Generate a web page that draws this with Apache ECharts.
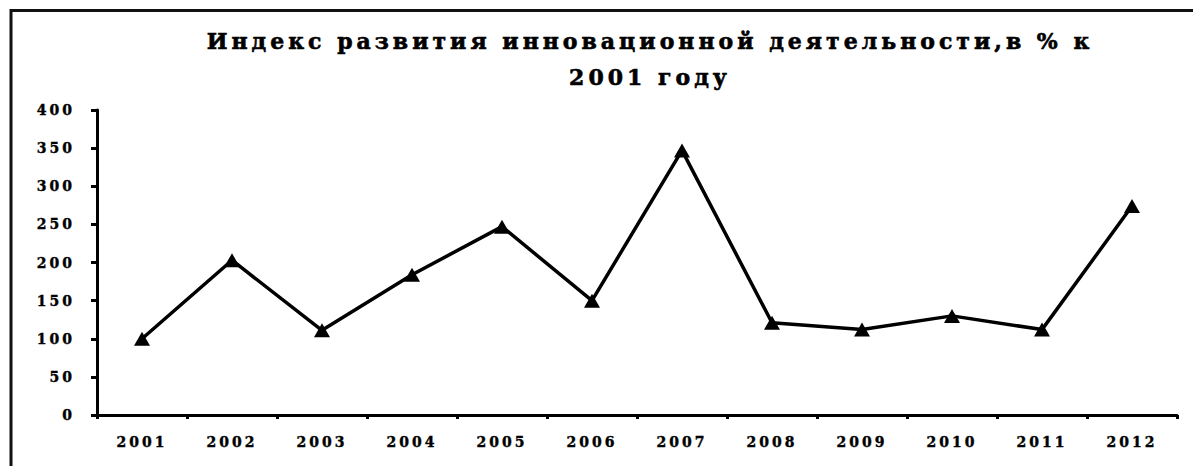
<!DOCTYPE html>
<html>
<head>
<meta charset="utf-8">
<script src="https://cdn.jsdelivr.net/npm/echarts@6/dist/echarts.min.js"></script>
<style>
  html, body { margin: 0; padding: 0; background: #fff; }
  #main { width: 1193px; height: 466px; }
  #main text { letter-spacing: 3px; }
  #main text[style*="22px"] { letter-spacing: 4px; }
</style>
</head>
<body>
<div id="main"></div>
<script>
// данные
var years = ['2001', '2002', '2003', '2004', '2005', '2006', '2007', '2008', '2009', '2010', '2011', '2012'];
var indexValues = [100, 203, 111, 184, 247, 150, 347, 121, 112, 130, 112, 274];
var yTicks = { min: 0, max: 400, step: 50 };
var titleText = 'Индекс развития инновационной деятельности,в % к\n2001 году';

var myChart = echarts.init(document.getElementById('main'), null, { renderer: 'svg' });

var option = {
    animation: false,
    backgroundColor: '#fff',
    title: {
        text: titleText,
        left: 650,
        top: 23,
        padding: 0,
        textAlign: 'center',
        textStyle: {
            fontFamily: 'DejaVu Serif',
            fontWeight: 'bold',
            fontSize: 22,
            lineHeight: 36,
            color: '#000',
            textBorderColor: '#000',
            textBorderWidth: 0.6
        }
    },
    graphic: [{
        type: 'rect',
        shape: { x: 11, y: 10.5, width: 1250, height: 520 },
        style: { fill: 'none', stroke: '#111', lineWidth: 3 },
        silent: true
    }],
    grid: { left: 97, right: 16, top: 110, bottom: 51 },
    xAxis: {
        type: 'category',
        data: years,
        boundaryGap: true,
        axisLine: { lineStyle: { color: '#000', width: 3 } },
        axisTick: { show: true, length: 4, lineStyle: { color: '#000', width: 3 } },
        axisLabel: {
            margin: 20,
            fontFamily: 'DejaVu Serif',
            fontWeight: 'bold',
            fontSize: 14,
            color: '#000',
            textBorderColor: '#000',
            textBorderWidth: 0.4
        }
    },
    yAxis: {
        type: 'value',
        min: yTicks.min,
        max: yTicks.max,
        interval: yTicks.step,
        splitLine: { show: false },
        axisLine: { show: true, lineStyle: { color: '#000', width: 3 } },
        axisTick: { show: true, length: 6, lineStyle: { color: '#000', width: 3 } },
        axisLabel: {
            margin: 22,
            fontFamily: 'DejaVu Serif',
            fontWeight: 'bold',
            fontSize: 14,
            color: '#000',
            textBorderColor: '#000',
            textBorderWidth: 0.4
        }
    },
    series: [{
        type: 'line',
        data: indexValues,
        smooth: false,
        symbol: 'triangle',
        symbolSize: [16, 14],
        lineStyle: { color: '#000', width: 3.5 },
        itemStyle: { color: '#000' }
    }]
};
myChart.setOption(option);
</script>
</body>
</html>
